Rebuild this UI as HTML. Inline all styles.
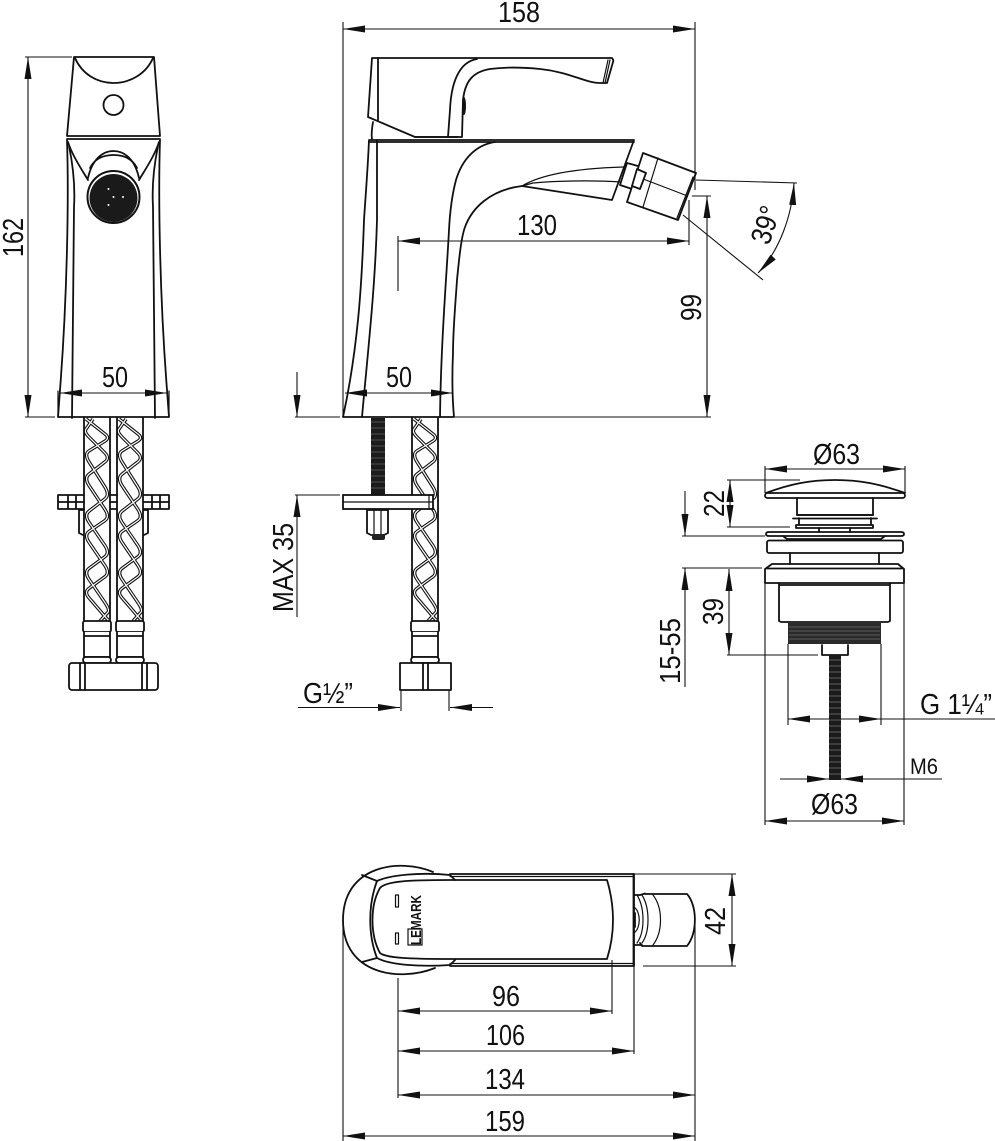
<!DOCTYPE html>
<html><head><meta charset="utf-8"><style>
html,body{margin:0;padding:0;background:#fff}
svg{display:block}
.o{fill:none;stroke:#111;stroke-width:1.8;stroke-linejoin:round;stroke-linecap:round}
.m{fill:none;stroke:#111;stroke-width:1.2;stroke-linecap:round;stroke-linejoin:round}
.w{fill:#fff;stroke:#111;stroke-width:1.8;stroke-linejoin:round}
.d{fill:none;stroke:#111;stroke-width:1.1}
.a{marker-start:url(#ar);marker-end:url(#ar)}
.e{marker-end:url(#ar)}
text{font-family:"Liberation Sans",sans-serif;font-size:29px;fill:#111}
</style></head><body>
<svg width="995" height="1141" viewBox="0 0 995 1141" xmlns="http://www.w3.org/2000/svg">
<defs>
<marker id="ar" markerUnits="userSpaceOnUse" markerWidth="23" markerHeight="9" refX="22" refY="4" orient="auto-start-reverse"><path d="M0,.5L22,4L0,7.5Z" fill="#111"/></marker>
<path id="ha" d="M2,1L21.200,16.200Q26,20 20.800,23.200L5.200,32.800Q0,36 5.200,44.200L20.800,68.800Q26,77 20.800,81L5.200,93Q0,97 5.200,104.600L20.800,127.400Q26,135 20.800,138.800L5.200,150.200Q0,154 5.200,161.600L20.800,184.400Q26,192 24,194.200L16,203"/>
<path id="hb" d="M9,1L1.800,11.400Q0,14 5.200,19.200L20.800,34.800Q26,40 20.800,44L5.200,56Q0,60 5.200,67.800L20.800,91.200Q26,99 20.800,102.600L5.200,113.400Q0,117 5.200,124.600L20.800,147.400Q26,155 20.800,158.800L5.200,170.200Q0,174 4.800,179.600L24,202"/>
<g id="hose">
<g fill="none" stroke="#111" stroke-width="3.400"><use href="#ha"/><use href="#hb"/></g>
<g fill="none" stroke="#fff" stroke-width="1.200"><use href="#ha"/><use href="#hb"/></g>
<path d="M0,0V203M26,0V203" class="o"/>
</g>
<g id="fit">
<rect x="-1" y="0" width="28" height="11" rx="2" class="w"/>
<path d="M0,11V15H26V11M0,15V36H26V15" class="w"/>
<rect x="-1" y="36" width="28" height="6" rx="3" class="w"/>
</g>
</defs>

<!-- LEFT VIEW -->
<g id="left">
<path d="M74,57H154L160,136H67Z" class="o" stroke-width="2"/>
<path d="M75,58C82,74 97,83 113.500,83C130,83 146,74 153,58" class="o"/>
<circle cx="113.500" cy="105" r="10" class="o" stroke-width="2"/>
<path d="M67,139H160" class="o" stroke-width="2.400"/>
<path d="M67,140C69,200 67,300 60,390L58,417H169L167,390C160,300 158,200 160,140" class="o" stroke-width="2"/>
<path d="M69,146C74,170 75,190 74,207L72,418M158,146C153,170 152,190 153,207L155,418" class="o"/>
<path d="M68,142C72,155 82,170 88,180M159,142C155,155 145,170 139,180" class="o" stroke-width="2"/>
<path d="M88,178C92,160 102,151 113.500,151C125,151 135,160 139,178M90,168C95,158 104,155 113.500,155C123,155 132,158 137,168" class="o"/>
<circle cx="113.500" cy="197" r="26" fill="#fff" stroke="#111" stroke-width="2"/>
<circle cx="113.500" cy="198" r="24" fill="#1a1a1a"/>
<g fill="#fff"><circle cx="108.500" cy="189" r="1"/><circle cx="113.500" cy="197" r="1"/><circle cx="123" cy="197" r="1"/><circle cx="108.500" cy="205" r="1"/></g>
<path d="M58,391V417M169,391V417" class="m"/>
<path d="M58,495H84M58,509H84M110,495H117M110,509H117M144,495H169M144,509H169M58,495V509M169,495V509M68,495V509M76,495V509M152,495V509M160,495V509M58,502H84M144,502H169M110,502H117" class="o" stroke-width="1.400"/>
<path d="M83,510H79V533L83,535M144,510H148V533L144,535" class="o" stroke-width="1.400"/>
<use href="#hose" x="84" y="418"/><use href="#hose" x="117" y="418"/>
<use href="#fit" x="84" y="621"/><use href="#fit" x="117" y="621"/>
<rect x="69" y="663" width="89" height="27" rx="3" class="w"/>
<path d="M80,663V690M85,663V690M142,663V690M147,663V690" class="o"/>
<path d="M28,57V417" class="d a"/><path d="M25,57H72M25,417H55" class="d"/>
<text transform="translate(23,257) rotate(-90)" textLength="39" lengthAdjust="spacingAndGlyphs">162</text>
<path d="M60,393H167" class="d a"/>
<text x="102" y="387" textLength="26" lengthAdjust="spacingAndGlyphs">50</text>
</g>

<!-- SIDE VIEW -->
<g id="side">
<path d="M372,58H612Q614,60 613,62L607,83H600C585,83 570,72 540,69C520,67 505,67 490,69C472,72 465,82 463,100L462,137H415L368,117Z" class="o" stroke-width="2"/>
<path d="M378,58V120M477,59C458,62 451,85 450,110L448,137" class="o"/>
<path d="M608,60L603,83M610,60L605,83" class="m"/>
<ellipse cx="464" cy="106" rx="2" ry="9" fill="#111"/>
<path d="M415,137H458M373,122Q371,134 372,139" class="o"/>
<path d="M369,140H634L612,200L522,186C490,190 472,208 465,227C461,238 459,260 457,280C455,310 453,330 453,353C452,375 452,395 454,417H343C350,385 355,350 358,320C361,290 363,250 364,220C366,190 368,165 369,140Z" class="o" stroke-width="2"/>
<path d="M369,142H634" class="o" stroke-width="2.200"/>
<path d="M377,140V220C375,290 368,350 362,417" class="o" stroke-width="2"/>
<path d="M495,142C475,145 462,160 456,180C452,195 450,210 449,230C447,270 441,340 440,417" class="o" stroke-width="2"/>
<path d="M522,186C545,172 590,168 623,167M533,183C555,181 590,180 621,182M522,186L533,183" class="m" stroke-width="1.500"/>
<path d="M627,163L638,166M620,185L632,189M627,163L620,185" class="o" stroke-width="1.400"/>
<path d="M643,153L696,173L678,220L627,202Z" class="w" stroke-width="2"/>
<path d="M658,158L643,207M638,177L685,195M693,177L677,218" class="m" stroke-width="1.500"/>
<path d="M637,169L646,173L640,189L632,186Z" class="w" stroke-width="1.400"/>
<path d="M343,22V417M695,22V190" class="d"/>
<path d="M343,29H695" class="d a"/>
<text x="498" y="22" textLength="42" lengthAdjust="spacingAndGlyphs">158</text>
<path d="M398,241H689" class="d a"/><path d="M398,236V291M689,200V245" class="d"/>
<text x="517" y="235" textLength="40" lengthAdjust="spacingAndGlyphs">130</text>
<path d="M696,180L797,183M683,215L763,280" class="d"/>
<path d="M794,183C792,215 780,250 758,273" class="d a"/>
<text transform="translate(769,246) rotate(-72)" textLength="38" lengthAdjust="spacingAndGlyphs">39°</text>
<path d="M707,196V417" class="d a"/><path d="M692,196H711M455,417H711" class="d"/>
<text transform="translate(701,321) rotate(-90)" textLength="27" lengthAdjust="spacingAndGlyphs">99</text>
<path d="M345,393H453" class="d a"/>
<text x="386" y="387" textLength="26" lengthAdjust="spacingAndGlyphs">50</text>
<path d="M297,372V417" class="d e"/><path d="M295,417H340M295,495H340" class="d"/>
<path d="M297,617V495" class="d e"/>
<text transform="translate(293,612) rotate(-90)" textLength="89" lengthAdjust="spacingAndGlyphs">MAX 35</text>
<rect x="371" y="418" width="14" height="77" fill="#1b1b1b"/>
<path d="M371,422H385M371,428H385M371,434H385M371,440H385M371,446H385M371,452H385M371,458H385M371,464H385M371,470H385M371,476H385M371,482H385M371,488H385" stroke="#666" stroke-width=".7"/>
<use href="#hose" x="412" y="418"/>
<rect x="343" y="495" width="90" height="14" fill="#fff" stroke="#111" stroke-width="1.800"/>
<path d="M343,502H433M429,495V509" class="m"/>
<path d="M367,510V533L371,535H384L388,533V510Z" class="o" stroke-width="1.400"/>
<path d="M374,510V534M381,510V534" class="m"/>
<rect x="372" y="534" width="13" height="6" rx="2" fill="#222"/>
<use href="#fit" x="412" y="621"/>
<rect x="400" y="663" width="51" height="27" class="w"/>
<path d="M423,663V690M428,663V690" class="o"/>
<path d="M401,690V711M449,690V711" class="d"/>
<path d="M298,707.500H400" class="d e"/><path d="M493,707.500H450" class="d e"/>
<text x="303" y="703" textLength="50" lengthAdjust="spacingAndGlyphs">G½”</text>
</g>

<!-- DRAIN -->
<g id="drain">
<path d="M765,469H905" class="d a"/><path d="M765,466V493M905,466V493" class="d"/>
<text x="813" y="464" textLength="47" lengthAdjust="spacingAndGlyphs">Ø63</text>
<path d="M766,493C790,484 810,480 835,480C860,480 880,484 905,493" class="o"/>
<rect x="765" y="493" width="140" height="5" rx="2.500" class="w"/>
<path d="M797,498V515H873V498" class="o"/>
<path d="M797,515H873M793,518.500H877" class="o" stroke-width="2.600"/>
<path d="M799,518V525M871,518V525" class="o"/>
<rect x="796" y="525" width="77" height="3" class="o"/>
<path d="M819,528V532M850,528V532" class="o"/>
<path d="M766,534Q766,532 769,532H901Q904,532 904,534Q904,536 901,536H769Q766,536 766,534Z" class="o"/>
<path d="M783,536L787,539H881L885,536" class="o" stroke-width="2"/>
<rect x="767" y="540.500" width="136" height="12.500" rx="2" class="o" stroke-width="2"/>
<path d="M790,553V564M879,553V564" class="o"/>
<path d="M772,564H898L904,569V583H765V569Z" class="o" stroke-width="2"/>
<path d="M767,568.500H902" class="o" stroke-width="2"/>
<path d="M779,583V621L781,622H888L890,621V583M779,585H890" class="o"/>
<rect x="788" y="623" width="93" height="21" fill="#2a2a2a"/>
<path d="M789,627H880M789,631H880M789,635H880M789,639H880" stroke="#888" stroke-width=".6"/>
<path d="M822,645V655H848V645" class="o"/>
<rect x="829" y="655" width="12" height="125" fill="#1b1b1b"/>
<path d="M829,660H841M829,666H841M829,672H841M829,678H841M829,684H841M829,690H841M829,696H841M829,702H841M829,708H841M829,714H841M829,720H841M829,726H841M829,732H841M829,738H841M829,744H841M829,750H841M829,756H841M829,762H841M829,768H841M829,774H841" stroke="#777" stroke-width=".7"/>
<path d="M730,480V527" class="d a"/><path d="M727,480H800M727,527H790" class="d"/>
<text transform="translate(724,517) rotate(-90)" textLength="27" lengthAdjust="spacingAndGlyphs">22</text>
<path d="M685,491V536" class="d e"/><path d="M682,536H765M682,568H762" class="d"/>
<path d="M685,687V568" class="d e"/>
<text transform="translate(680,684) rotate(-90)" textLength="66" lengthAdjust="spacingAndGlyphs">15-55</text>
<path d="M729,569V655" class="d a"/><path d="M727,655H818" class="d"/>
<text transform="translate(723,625) rotate(-90)" textLength="27" lengthAdjust="spacingAndGlyphs">39</text>
<path d="M765,583V825M904,583V825M788,644V725M881,644V725" class="d"/>
<path d="M788,719H881" class="d a"/><path d="M881,719H995" class="d"/>
<text x="920" y="714" textLength="72" lengthAdjust="spacingAndGlyphs">G 1¼”</text>
<path d="M780,779H829" class="d e"/><path d="M942,779H841" class="d e"/>
<text x="910" y="774" style="font-size:22px" textLength="28" lengthAdjust="spacingAndGlyphs">M6</text>
<path d="M765,821H904" class="d a"/>
<text x="811" y="814" textLength="47" lengthAdjust="spacingAndGlyphs">Ø63</text>
</g>

<!-- TOP VIEW -->
<g id="top">
<path d="M433,872C400,858 343,865 343,920C343,975 400,982 435,968" class="o"/>
<path d="M450,874H634V966H450" class="o"/>
<path d="M633.500,874V966" class="o" stroke-width="2.200"/>
<path d="M450,876.500H634M450,963.500H634" class="m" stroke-width=".9"/>
<path d="M362,875L377,881C368,905 368,935 377,958L362,962M377,881C390,875 420,872 450,875L455,880M377,958C390,965 420,967 450,965L455,960" class="o"/>
<path d="M380,888C386,881 410,880 450,880H607Q613,900 613,920Q613,940 607,959H450C410,959 386,958 380,953C370,935 370,905 380,888Z" class="o" stroke-width="2.200"/>
<rect x="395.500" y="895" width="3" height="12" class="m" stroke-width="1"/>
<rect x="395.500" y="933" width="3" height="11" class="m" stroke-width="1"/>
<text transform="translate(421,945) rotate(-90)" style="font-size:15px;font-weight:bold" textLength="50" lengthAdjust="spacingAndGlyphs">LEMARK</text>
<rect x="408" y="929" width="14" height="16" fill="none" stroke="#111" stroke-width="1.200"/>
<path d="M634,895H640M634,945H642" class="o" stroke-width="1.500"/>
<path d="M645,894H687C697,905 698,932 687,946H642L640,943" class="o"/>
<path d="M640,895L645,893.500" class="o"/>
<path d="M637,895C645,908 645,932 637,943M642,895C650,908 650,932 642,943M653,895C663,908 663,932 653,945" class="m"/>
<path d="M634,907C641,912 641,928 634,933" class="m"/>
<path d="M635,913V927" class="o" stroke-width="2"/>
<path d="M634,874H736M643,966H736" class="d"/>
<path d="M732,874V966" class="d a"/>
<text transform="translate(725,935) rotate(-90)" textLength="28" lengthAdjust="spacingAndGlyphs">42</text>
<path d="M398,978V1098M343,920V1141M612,960V1014M634,966V1054M695,925V1141" class="d"/>
<path d="M398,1011H612" class="d a"/>
<text x="492" y="1006" textLength="28" lengthAdjust="spacingAndGlyphs">96</text>
<path d="M398,1051H634" class="d a"/>
<text x="486" y="1045" textLength="39" lengthAdjust="spacingAndGlyphs">106</text>
<path d="M398,1095H695" class="d a"/>
<text x="485" y="1089" textLength="40" lengthAdjust="spacingAndGlyphs">134</text>
<path d="M343,1136H695" class="d a"/>
<text x="485" y="1131" textLength="40" lengthAdjust="spacingAndGlyphs">159</text>
</g>
</svg>
</body></html>
